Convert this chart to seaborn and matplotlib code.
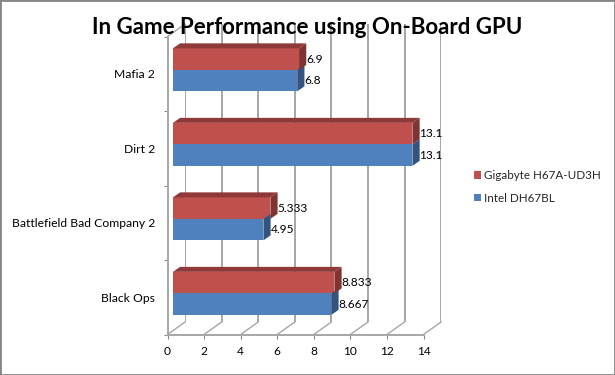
import matplotlib
matplotlib.use("Agg")
import matplotlib.pyplot as plt
from matplotlib.patches import Polygon, Rectangle
import pandas as pd
import seaborn as sns

games = ["Mafia 2", "Dirt 2", "Battlefield Bad Company 2", "Black Ops"]
gigabyte = [6.9, 13.1, 5.333, 8.833]
intel = [6.8, 13.1, 4.95, 8.667]
boards = ["Gigabyte H67A-UD3H", "Intel DH67BL"]
x_ticks = [0, 2, 4, 6, 8, 10, 12, 14]

W, H = 615, 375
GRID = "#a6a6a6"
BORDER = "#868686"

sns.set_theme(style="white")
plt.rcParams["font.family"] = ["Lato", "DejaVu Sans"]


def px_axes(fig, left, top, right, bottom, z):
    # axes box given in image pixels
    ax = fig.add_axes([left / W, 1 - bottom / H, (right - left) / W, (bottom - top) / H], zorder=z)
    ax.patch.set_alpha(0)
    return ax


df = pd.DataFrame({
    "game": games * 2,
    "fps": gigabyte + intel,
    "board": [boards[0]] * 4 + [boards[1]] * 4,
})

fig = plt.figure(figsize=(W / 100, H / 100), dpi=100, facecolor="white")
fig.add_artist(Rectangle((0, 0), 1, 1, transform=fig.transFigure, fill=False, ec=BORDER, lw=2))

left, right, top, bottom = 167.5, 423.5, 36.5, 334.5
back_dx, back_dy = 17.7, 12.6
bar_dx, bar_dy = 5.4, 3.9
side_dx, side_dy = 7.2, 5

# back wall, only gridlines
ax_back = px_axes(fig, left + back_dx, top - back_dy, right + back_dx, bottom - back_dy, 1)
ax_back.set_xlim(0, 14)
ax_back.set_xticks(x_ticks)
ax_back.set_yticks([])
ax_back.tick_params(length=0, labelbottom=False)
ax_back.grid(axis="x", color=GRID, lw=1.4)
sns.despine(ax=ax_back, left=True, bottom=True)

# front of the floor, carries the tick labels
ax_front = px_axes(fig, left, top, right, bottom, 2)
ax_front.set_xlim(0, 14)
ax_front.set_ylim(3.5, -0.5)
ax_front.set_xticks(x_ticks)
ax_front.set_yticks([-0.5, 0.5, 1.5, 2.5, 3.5])
ax_front.set_yticklabels([])
ax_front.set_yticks(range(4), labels=games, minor=True)
ax_front.tick_params(axis="x", which="major", length=3, width=0.8, color=BORDER, pad=5.4, labelsize=8.6, bottom=True, labelcolor="black")
ax_front.tick_params(axis="y", which="major", length=3, width=0.8, color=BORDER, left=True)
ax_front.tick_params(axis="y", which="minor", length=0, pad=9, labelsize=8.75, labelcolor="black")
sns.despine(ax=ax_front)
for side in ["left", "bottom"]:
    ax_front.spines[side].set_color(GRID)
    ax_front.spines[side].set_linewidth(1.4)

# floor diagonals and the top of the side wall
ux = 14 / (right - left)
uy = 4 / (bottom - top)
for v in x_ticks:
    ax_front.plot([v, v + back_dx * ux], [3.5, 3.5 - back_dy * uy], color=GRID, lw=1, clip_on=False)
ax_front.plot([0, back_dx * ux], [-0.5, -0.5 - back_dy * uy], color=GRID, lw=1, clip_on=False)

# bars
ax_bar = px_axes(fig, left + bar_dx, top - bar_dy, right + bar_dx, bottom - bar_dy, 3)
sns.barplot(data=df, y="game", x="fps", hue="board", hue_order=boards, order=games,
            palette=["#C0504D", "#4F81BD"], width=0.577, gap=0, saturation=1,
            edgecolor="none", ax=ax_bar)
ax_bar.set_xlim(0, 14)
ax_bar.set_ylim(3.5, -0.5)
ax_bar.set_xlabel("")
ax_bar.set_ylabel("")
ax_bar.set_xticks([])
ax_bar.set_yticks([])
sns.despine(ax=ax_bar, left=True, bottom=True)

# fake 3d: side and top faces taken from each seaborn bar
sx, sy = side_dx * ux, side_dy * uy
shades = {0: ("#7f3432", "#8f3a38"), 1: ("#34547f", "#3d6291")}
for i in [1, 0]:
    side_col, top_col = shades[i]
    for bar in ax_bar.containers[i]:
        x1 = bar.get_width()
        y0, y1 = sorted([bar.get_y(), bar.get_y() + bar.get_height()])
        ax_bar.add_patch(Polygon([(x1, y0), (x1 + sx, y0 - sy), (x1 + sx, y1 - sy), (x1, y1)],
                                 fc=side_col, ec="none", zorder=1.5, clip_on=False))
        if i == 0:
            ax_bar.add_patch(Polygon([(0, y0), (sx, y0 - sy), (x1 + sx, y0 - sy), (x1, y0)],
                                     fc=top_col, ec="none", zorder=1.5, clip_on=False))
    ax_bar.bar_label(ax_bar.containers[i], padding=5, fontsize=8.6, color="black")

sns.move_legend(ax_bar, "center left", bbox_to_anchor=(474 / W, 1 - 187 / H),
                bbox_transform=fig.transFigure, frameon=False, title=None, fontsize=8.4,
                handlelength=0.57, handleheight=0.57, handletextpad=0.28, labelspacing=1.0,
                borderpad=0, borderaxespad=0)

fig.text(307 / W, 1 - 27 / H, "In Game Performance using On-Board GPU", ha="center", va="center",
         fontsize=16, fontweight="bold", color="black", zorder=10)

fig.savefig("out.png", dpi=100)
